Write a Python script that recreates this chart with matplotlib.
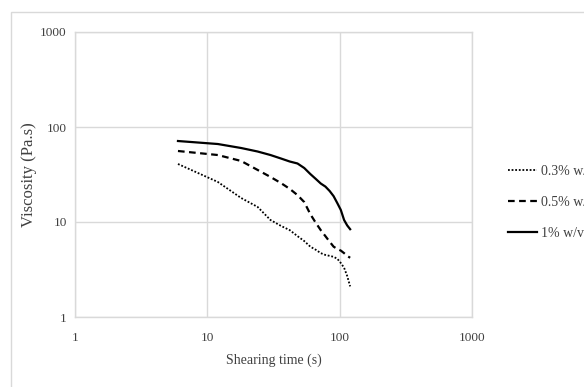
import matplotlib
matplotlib.use("Agg")
import matplotlib.pyplot as plt
from matplotlib.patches import Rectangle

# shearing time (s) and viscosity (Pa.s)
time_s = [6, 12, 18, 24, 30, 36, 42, 48, 54, 60,
          66, 72, 78, 84, 90, 96, 102, 108, 114, 120]
visc_03 = [40.8, 26.4, 17.9, 14.4, 10.5, 9.1, 8.2, 7.1, 6.3, 5.5,
           5.1, 4.7, 4.5, 4.4, 4.3, 4.1, 3.7, 3.3, 2.7, 2.1]
visc_05 = [55.9, 50.7, 43.9, 35.3, 29.8, 25.7, 22.3, 19.2, 16.2, 12.1,
           9.8, 8.2, 7.1, 6.2, 5.5, 5.2, 5.0, 4.7, 4.4, 4.2]
visc_1 = [71.2, 66.2, 60.1, 55.2, 50.7, 46.6, 43.3, 41.3, 37.0, 32.0,
          28.4, 25.4, 23.6, 21.2, 18.7, 15.8, 13.4, 10.5, 9.2, 8.4]
labels = ["0.3% w/v", "0.5% w/v", "1% w/v"]
ticks = [1, 10, 100, 1000]
tick_labels = ["1", "10", "100", "1000"]

plt.rcParams["font.family"] = ["Liberation Serif", "DejaVu Serif"]
GRID = "#d9d9d9"
TXT = "#404040"

fig = plt.figure(figsize=(5.84, 3.87), dpi=100)
# outer chart-area border (cropped on the right and bottom by the reference)
fig.patches.append(Rectangle((11 / 584, -0.2), 1.2, 1.2 - 12 / 387,
                             transform=fig.transFigure, fill=False,
                             edgecolor=GRID, lw=1.0))

ax = fig.add_axes([75 / 584, 1 - 317 / 387, 397 / 584, 285 / 387])
ax.plot(time_s, visc_03, color="black", lw=1.3, ls=(0, (1, 1)), label=labels[0])
ax.plot(time_s, visc_05, color="black", lw=1.6, ls=(0, (3, 2)), label=labels[1])
ax.plot(time_s, visc_1, color="black", lw=1.6, ls="-", label=labels[2])

ax.set_xscale("log")
ax.set_yscale("log")
ax.set_xlim(1, 1000)
ax.set_ylim(1, 1000)
ax.set_xticks(ticks)
ax.set_xticklabels(tick_labels)
ax.set_yticks(ticks)
ax.set_yticklabels(tick_labels)
ax.minorticks_off()
ax.tick_params(length=0, labelsize=9.5, colors=TXT)
ax.tick_params(axis="x", pad=11)
ax.tick_params(axis="y", pad=6)
ax.grid(color=GRID, lw=1.0)
ax.set_axisbelow(True)
for s in ax.spines.values():
    s.set_color(GRID)
    s.set_linewidth(1.0)

ax.set_xlabel("Shearing time (s)", fontsize=10, color=TXT, labelpad=7)
ax.set_ylabel("Viscosity (Pa.s)", fontsize=12, color=TXT, labelpad=2)

fig.legend(loc="upper left", bbox_to_anchor=(508 / 584, 1 - 165 / 387),
           frameon=False, fontsize=10, handlelength=2.1, handletextpad=0.25,
           labelspacing=1.3, borderpad=0, borderaxespad=0,
           labelcolor=TXT)

fig.savefig("out.png", dpi=100)
